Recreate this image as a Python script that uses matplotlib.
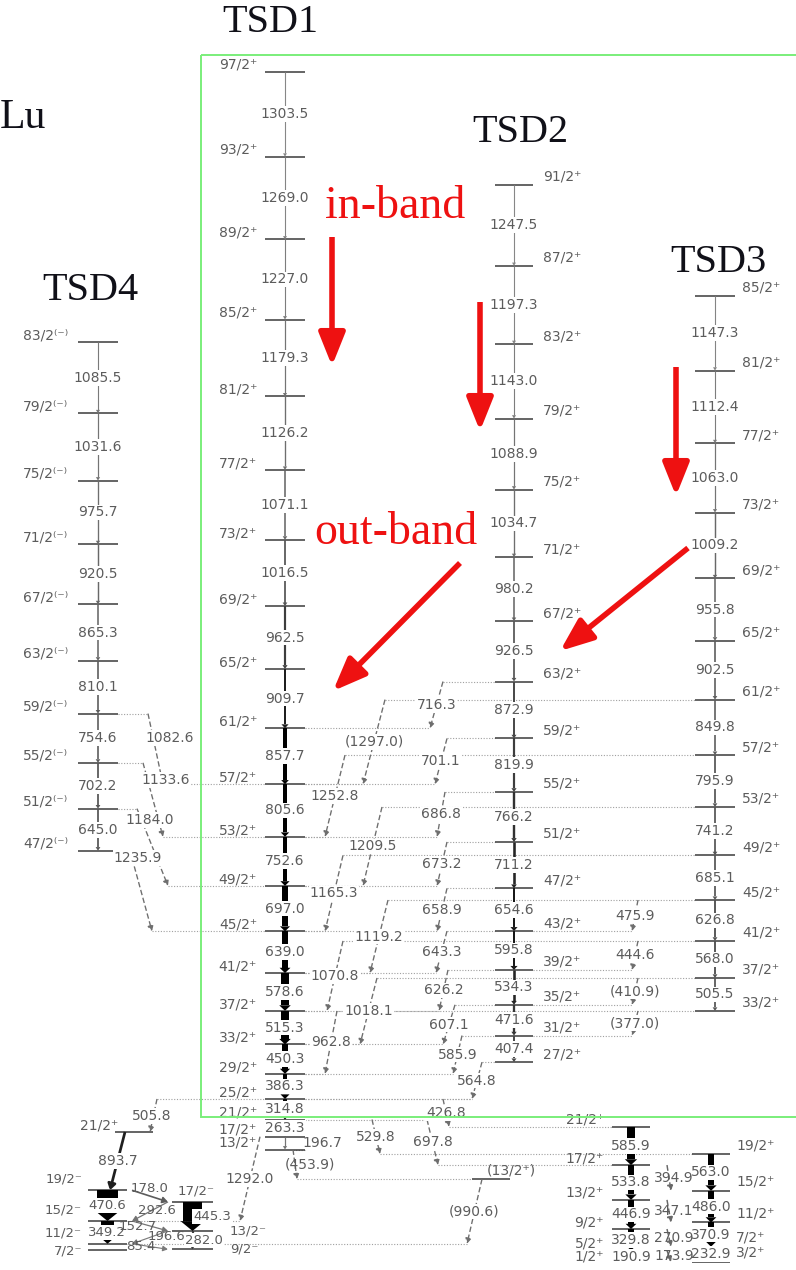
import numpy as np
import matplotlib
matplotlib.use("Agg")
import matplotlib.pyplot as plt
from matplotlib.patches import Rectangle, Polygon

plt.rcParams["font.family"] = "DejaVu Sans"

# ---------------------------------------------------------------
# level scheme data, gamma energies in keV, lists run bottom -> top
# ---------------------------------------------------------------

# 1/2+[411] ground band, favoured (a) and unfavoured (b) signature
gb_a_spins = ["1/2⁺", "5/2⁺", "9/2⁺", "13/2⁺", "17/2⁺", "21/2⁺"]
gb_a_gammas = [190.9, 329.8, 446.9, 533.8, 585.9]
gb_a_int = [4.0, 5.0, 5.5, 6.0, 7.0]
gb_b_spins = ["3/2⁺", "7/2⁺", "11/2⁺", "15/2⁺", "19/2⁺"]
gb_b_gammas = [232.9, 370.9, 486.0, 563.0]
gb_b_int = [5.0, 5.0, 5.5, 6.0]
gb_ba_gammas = [173.9, 270.9, 347.1, 394.9]     # 5/2->3/2 ... 17/2->15/2

# 9/2-[514] band, plus the 7/2- state next to it
h9_spins = ["9/2⁻", "11/2⁻", "13/2⁻", "15/2⁻", "17/2⁻", "19/2⁻"]
h9_m1 = [85.4, 196.6, 152.7, 292.6, 178.0]      # I -> I-1
h9_m1_int = [0.5, 0.5, 0.6, 0.6, 1.0]
h9_e2 = [282.0, 349.2, 445.3, 470.6]            # 13->9, 15->11, 17->13, 19->15
h9_e2_int = [1.5, 11.0, 18.0, 20.0]
h7_spin = "7/2⁻"
h7_energy = 200.0

# triaxial superdeformed bands
tsd1_spins = ["13/2⁺", "17/2⁺", "21/2⁺", "25/2⁺", "29/2⁺", "33/2⁺", "37/2⁺",
              "41/2⁺", "45/2⁺", "49/2⁺", "53/2⁺", "57/2⁺", "61/2⁺", "65/2⁺",
              "69/2⁺", "73/2⁺", "77/2⁺", "81/2⁺", "85/2⁺", "89/2⁺", "93/2⁺", "97/2⁺"]
tsd1_gammas = [196.7, 263.3, 314.8, 386.3, 450.3, 515.3, 578.6, 639.0, 697.0,
               752.6, 805.6, 857.7, 909.7, 962.5, 1016.5, 1071.1, 1126.2,
               1179.3, 1227.0, 1269.0, 1303.5]
tsd1_int = [0.6, 1.2, 2.4, 3.8, 5.0, 6.2, 6.2, 5.6, 4.8, 4.0, 3.2, 2.5, 2.0,
            1.5, 1.1, 0.9, 0.7, 0.6, 0.45, 0.35, 0.3]

tsd2_spins = ["27/2⁺", "31/2⁺", "35/2⁺", "39/2⁺", "43/2⁺", "47/2⁺", "51/2⁺",
              "55/2⁺", "59/2⁺", "63/2⁺", "67/2⁺", "71/2⁺", "75/2⁺", "79/2⁺",
              "83/2⁺", "87/2⁺", "91/2⁺"]
tsd2_gammas = [407.4, 471.6, 534.3, 595.8, 654.6, 711.2, 766.2, 819.9, 872.9,
               926.5, 980.2, 1034.7, 1088.9, 1143.0, 1197.3, 1247.5]
tsd2_int = [1.3, 1.6, 1.9, 2.1, 2.1, 1.9, 1.7, 1.5, 1.3, 1.1, 0.9, 0.7, 0.6,
            0.45, 0.35, 0.3]

tsd3_spins = ["33/2⁺", "37/2⁺", "41/2⁺", "45/2⁺", "49/2⁺", "53/2⁺", "57/2⁺",
              "61/2⁺", "65/2⁺", "69/2⁺", "73/2⁺", "77/2⁺", "81/2⁺", "85/2⁺"]
tsd3_gammas = [505.5, 568.0, 626.8, 685.1, 741.2, 795.9, 849.8, 902.5, 955.8,
               1009.2, 1063.0, 1112.4, 1147.3]
tsd3_int = [1.1, 1.2, 1.2, 1.1, 1.1, 1.1, 1.0, 1.0, 0.9, 0.8, 0.6, 0.45, 0.35]

tsd4_spins = ["47/2⁽⁻⁾", "51/2⁽⁻⁾", "55/2⁽⁻⁾", "59/2⁽⁻⁾", "63/2⁽⁻⁾",
              "67/2⁽⁻⁾", "71/2⁽⁻⁾", "75/2⁽⁻⁾", "79/2⁽⁻⁾", "83/2⁽⁻⁾"]
tsd4_gammas = [645.0, 702.2, 754.6, 810.1, 865.3, 920.5, 975.7, 1031.6, 1085.5]
tsd4_int = [1.1, 1.1, 1.0, 1.0, 0.9, 0.8, 0.7, 0.6, 0.5]

# inter-band transitions
tsd2_to_tsd1 = [564.8, 585.9, 607.1, 626.2, 643.3, 658.9, 673.2, 686.8, 701.1, 716.3]
tsd3_to_tsd1 = [962.8, 1018.1, 1070.8, 1119.2, 1165.3, 1209.5, 1252.8, 1297.0]
tsd3_to_tsd2 = [377.0, 410.9, 444.6, 475.9]
tsd4_to_tsd1 = [1235.9, 1184.0, 1133.6, 1082.6]
tentative = {1297.0, 410.9, 377.0, 453.9, 990.6}

tsd1_to_gb = [426.8, 529.8, 697.8]   # 25/2->21/2(a), 21/2->19/2(b), 21/2->17/2(a)
tsd1_to_x21 = 505.8                  # 25/2+ -> 21/2+
x21_to_h9 = 893.7                    # 21/2+ -> 19/2-
tsd1_to_h9 = 1292.0                  # 17/2+ -> 15/2-
tsd1_to_x13 = 453.9                  # 13/2+ -> (13/2+)
x13_to_h9 = 990.6                    # (13/2+) -> 11/2-

# ---------------------------------------------------------------
# level energies
# ---------------------------------------------------------------
def ladder(base, gammas):
    return base + np.concatenate([[0.0], np.cumsum(gammas)])

E_a = ladder(0.0, gb_a_gammas)
E_b = ladder(E_a[1] - gb_ba_gammas[0], gb_b_gammas)
E_t1 = ladder(E_a[5] + tsd1_to_gb[0] - sum(tsd1_gammas[:3]), tsd1_gammas)
E_t2 = ladder(E_t1[3] + tsd2_to_tsd1[0], tsd2_gammas)
E_t3 = ladder(E_t1[4] + tsd3_to_tsd1[0], tsd3_gammas)
E_t4 = ladder(E_t1[8] + tsd4_to_tsd1[0], tsd4_gammas)
E_x13 = E_t1[0] - tsd1_to_x13
E_h9 = ladder(E_x13 - x13_to_h9 - h9_m1[0], h9_m1)
E_x21 = E_t1[3] - tsd1_to_x21

# ---------------------------------------------------------------
# drawing
# ---------------------------------------------------------------
W, H = 796, 1270
Y0, S = 1263.0, 0.06524          # baseline row and pixels per keV

fig = plt.figure(figsize=(W / 100, H / 100), dpi=100)
ax = fig.add_axes([0, 0, 1, 1])
ax.set_xlim(0, W)
ax.set_ylim((Y0 - H) / S, Y0 / S)
ax.axis("off")

GRAY = "#5c5c5c"
BOX = dict(boxstyle="square,pad=0.06", fc="white", ec="none")


def px(n):
    return n / S


def row(y):
    # energy that sits on pixel row y
    return (Y0 - y) / S


def level(x0, x1, e):
    ax.plot([x0, x1], [e, e], color="#3a3a3a", lw=1.1, solid_capstyle="butt", zorder=2)


def dotted(x0, x1, e):
    ax.plot([x0, x1], [e, e], color="#a0a0a0", lw=0.8, ls=(0, (1, 1.5)), zorder=1)


def shade(inten):
    g = max(0.0, 0.6 - 0.24 * inten)
    return (g, g, g)


def gamma(x0, e0, x1, e1, inten=1.0, dashed=False):
    c = shade(inten)
    if dashed or x0 != x1:
        # slanted / inter-band transition: thin arrow
        lw = 0.45 + 0.75 * inten
        ax.annotate("", xy=(x1, e1), xytext=(x0, e0), zorder=3,
                    arrowprops=dict(arrowstyle=f"-|>,head_length={2.6 + 0.5 * lw},head_width={1.1 + 0.6 * lw}",
                                    lw=lw, color=c, shrinkA=0, shrinkB=0,
                                    mutation_scale=1, capstyle="butt",
                                    ls=(0, (4, 2)) if dashed else "-"))
        return
    # in-band transition: shaft width (pixels) follows the intensity
    w = 0.6 + 1.05 * inten
    gap = (e0 - e1) * S
    hl = min(3.0 + 0.35 * w, 0.4 * gap)
    hw = 0.5 * w + (2.2 if w > 2.6 else 1.5)
    eh = e1 + px(hl)
    if w < 2.6:
        ax.plot([x0, x0], [e0, eh], color=c, lw=max(0.72 * w, 0.8),
                solid_capstyle="butt", zorder=3)
    else:
        ax.add_patch(Rectangle((x0 - 0.5 * w, eh), w, e0 - eh, fc=c, ec="none", zorder=3))
    ax.add_patch(Polygon([(x0 - hw, eh), (x0 + hw, eh), (x0, e1)], closed=True,
                         fc=c, ec="none", zorder=3))


def etext(x, e, g, box=True, ha="center", size=10):
    s = f"({g:.1f})" if g in tentative else f"{g:.1f}"
    ax.text(x, e, s, ha=ha, va="center", fontsize=size, color=GRAY,
            bbox=BOX if box else None, zorder=4)


def stext(x, e, s, ha, size=10):
    ax.text(x, e, s, ha=ha, va="center", fontsize=size, color=GRAY, zorder=4)


def band(x0, x1, E, spins, gammas, inten, lab_x, lab_ha, lab_dy, skip=()):
    xc = 0.5 * (x0 + x1)
    for e in E:
        level(x0, x1, e)
    for i, g in enumerate(gammas):
        gamma(xc, E[i + 1], xc, E[i], inten[i])
        if i not in skip:
            etext(xc, 0.5 * (E[i] + E[i + 1]), g)
    for e, s in zip(E, spins):
        stext(lab_x, e + px(lab_dy), s, lab_ha)


def link(xa, ea, xb, eb, g, dashed=True, lab=None, inten=0.7):
    gamma(xa, ea, xb, eb, inten, dashed=dashed)
    lx, le = (0.5 * (xa + xb), 0.5 * (ea + eb)) if lab is None else lab
    etext(lx, le, g)


# --- inter-band links and their guide lines ---
t21_top = [482, 462, 455, 448, 447, 447, 447, 445, 447, 443]
t21_bot = [472, 453, 443, 439, 436, 437, 437, 437, 435, 430]
for i, g in enumerate(tsd2_to_tsd1):
    dotted(t21_top[i], 495, E_t2[i])
    dotted(305, t21_bot[i], E_t1[i + 3])
    link(t21_top[i], E_t2[i], t21_bot[i], E_t1[i + 3], g)

t31_top = [337, 377, 343, 388, 343, 382, 345, 385]
t31_bot = [325, 360, 327, 370, 325, 363, 325, 363]
for i, g in enumerate(tsd3_to_tsd1):
    dotted(t31_top[i], 695, E_t3[i])
    dotted(305, t31_bot[i], E_t1[i + 4])
    link(t31_top[i], E_t3[i], t31_bot[i], E_t1[i + 4], g)

for i, g in enumerate(tsd3_to_tsd2):
    dotted(533, 632, E_t2[i + 1])
    link(638, E_t3[i], 632, E_t2[i + 1], g)

t41_top = [130, 137, 143, 148]
t41_bot = [152, 168, 163, 163]
t41_lab = [(138, 858), (150, 820), (166, 780), (170, 738)]
for i, g in enumerate(tsd4_to_tsd1):
    dotted(118, t41_top[i], E_t4[i])
    dotted(t41_bot[i], 265, E_t1[i + 8])
    lx, ly = t41_lab[i]
    link(t41_top[i], E_t4[i], t41_bot[i], E_t1[i + 8], g, lab=(lx, row(ly)))

# --- bands ---
band(265, 305, E_t1, tsd1_spins, tsd1_gammas, tsd1_int, 257, "right", 6.7, skip=(0,))
etext(322, 0.5 * (E_t1[0] + E_t1[1]), tsd1_gammas[0], box=False)
band(495, 533, E_t2, tsd2_spins, tsd2_gammas, tsd2_int, 543, "left", 8)
band(695, 735, E_t3, tsd3_spins, tsd3_gammas, tsd3_int, 742, "left", 8)
band(78, 118, E_t4, tsd4_spins, tsd4_gammas, tsd4_int, 68, "right", 7)

# ground band
band(612, 650, E_a, gb_a_spins, gb_a_gammas, gb_a_int, 604, "right", 7)
band(692, 730, E_b, gb_b_spins, gb_b_gammas, gb_b_int, 736, "left", 9)
for i, g in enumerate(gb_ba_gammas):
    e_hi, e_lo = E_a[i + 1], E_b[i]
    gamma(667, e_hi, 671, e_lo, 0.8, dashed=True)
    etext(674, 0.5 * (e_hi + e_lo), g, box=False)

# 9/2- band: odd spins on the left column, even spins on the right column
hL, hR = (88, 127), (172, 213)
for k, e in enumerate(E_h9):
    x0, x1 = hL if k % 2 else hR
    level(x0, x1, e)
level(hL[0], hL[1], h7_energy)
stext(82, h7_energy - px(1), h7_spin, "right", size=9.5)
e2_lab_x = [204, 107, 212, 107]
for k in range(len(h9_e2)):
    x0, x1 = hL if k % 2 else hR
    xc = 0.5 * (x0 + x1)
    gamma(xc, E_h9[k + 2], xc, E_h9[k], h9_e2_int[k])
    etext(e2_lab_x[k], 0.5 * (E_h9[k] + E_h9[k + 2]), h9_e2[k], size=9.5)
m1_lab = [(141, 1247), (166, 1237), (138, 1226), (157, 1211), (150, 1188)]
for k, g in enumerate(h9_m1):
    upper_left = (k + 1) % 2 == 1
    xa, xb = (132, 168) if upper_left else (168, 132)
    gamma(xa, E_h9[k + 1], xb, E_h9[k], h9_m1_int[k])
    lx, ly = m1_lab[k]
    etext(lx, row(ly), g, box=False, size=9.5)
for k, s in enumerate(h9_spins):
    if k % 2:
        stext(82, E_h9[k] + px(11), s, "right", size=9.5)
    elif k == 4:
        stext(196, E_h9[k] + px(11), s, "center", size=9.5)
    else:
        stext(230, E_h9[k], s, "left", size=9.5)

# decay-out of TSD1 into the low-lying states
level(115, 153, E_x21)
stext(118, E_x21 + px(6), "21/2⁺", "right")
dotted(157, 265, E_t1[3])
link(157, E_t1[3], 150, E_x21, tsd1_to_x21, lab=(152, E_t1[3] - px(17)))
gamma(125, E_x21, 110, E_h9[5], 2.0)
etext(118, 0.5 * (E_x21 + E_h9[5]), x21_to_h9)

link(260, E_t1[1], 240, E_h9[3], tsd1_to_h9)
dotted(127, 240, E_h9[3])

level(472, 510, E_x13)
stext(487, E_x13 + px(9), "(13/2⁺)", "left")
dotted(305, 293, E_t1[0])
dotted(297, 472, E_x13)
gamma(293, E_t1[0], 297, E_x13, 0.7, dashed=True)
etext(310, 0.5 * (E_t1[0] + E_x13), tsd1_to_x13, box=False)
link(482, E_x13, 467, E_h9[1], x13_to_h9)
dotted(127, 467, E_h9[1])

dotted(305, 472, E_t1[3])
link(443, E_t1[3], 449, E_a[5], tsd1_to_gb[0])
dotted(449, 612, E_a[5])
dotted(305, 430, E_t1[2])
link(372, E_t1[2], 380, E_b[4], tsd1_to_gb[1])
dotted(380, 692, E_b[4])
link(427, E_t1[2], 438, E_a[4], tsd1_to_gb[2])
dotted(438, 612, E_a[4])

# ---------------------------------------------------------------
# frame, titles and annotations in pixel coordinates
# ---------------------------------------------------------------
deco = fig.add_axes([0, 0, 1, 1])
deco.set_xlim(0, W)
deco.set_ylim(H, 0)
deco.axis("off")
deco.patch.set_alpha(0)

deco.add_patch(Rectangle((201, 55), 620, 1062, fill=False, ec="#7aee7a", lw=1.4, zorder=5))

serif = "Liberation Serif"
for txt, x, y in [("TSD1", 270, 22), ("TSD2", 520, 133), ("TSD3", 718, 263), ("TSD4", 90, 290)]:
    deco.text(x, y, txt, fontsize=29, family=serif, ha="center", va="center", color="#101018")
deco.text(46, 118, "Lu", fontsize=30, family=serif, ha="right", va="center", color="#101018")
deco.text(395, 207, "in-band", fontsize=33, family=serif, ha="center", va="center", color="#ee1111")
deco.text(396, 533, "out-band", fontsize=33, family=serif, ha="center", va="center", color="#ee1111")

red_arrows = [((332, 237), (332, 366)), ((480, 302), (480, 431)), ((676, 367), (676, 496)),
              ((460, 563), (333, 691)), ((688, 548), (560, 651))]
for (xa, ya), (xb, yb) in red_arrows:
    deco.annotate("", xy=(xb, yb), xytext=(xa, ya), zorder=6,
                  arrowprops=dict(arrowstyle="-|>,head_length=20,head_width=8",
                                  lw=4.0, color="#ee1111", shrinkA=0, shrinkB=0,
                                  mutation_scale=1, capstyle="butt"))

fig.savefig("out.png", dpi=100)
